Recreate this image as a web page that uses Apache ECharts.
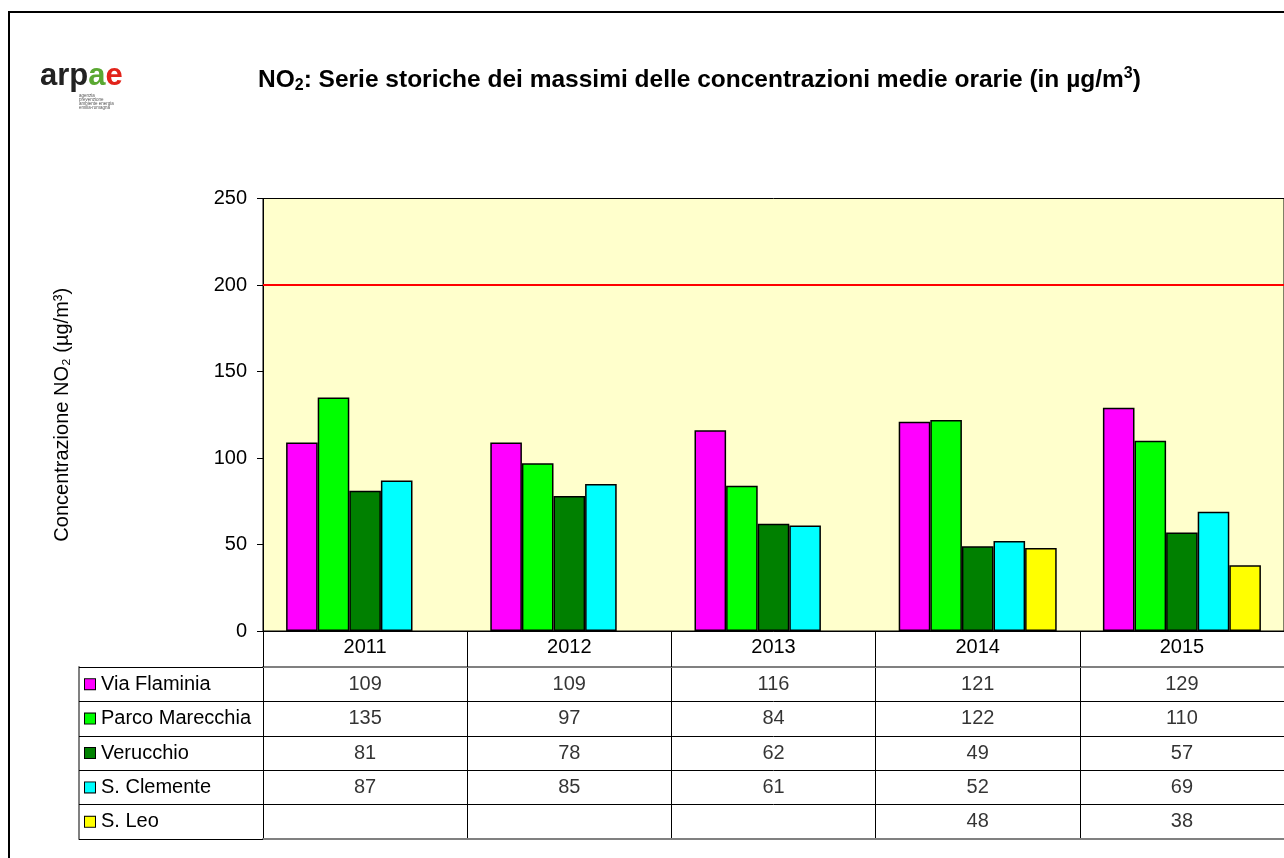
<!DOCTYPE html>
<html lang="it">
<head>
    <meta charset="UTF-8">
    <title>NO2 serie storiche</title>
    <style>
        html, body { margin: 0; padding: 0; background: #fff; }
        #main { width: 1284px; height: 858px; }
    </style>
</head>
<body>
    <div id="main"></div>
    <script src="https://cdn.jsdelivr.net/npm/echarts@6/dist/echarts.min.js"></script>
    <script>
        // dati
        const years = ['2011', '2012', '2013', '2014', '2015'];
        const stations = ['Via Flaminia', 'Parco Marecchia', 'Verucchio', 'S. Clemente', 'S. Leo'];
        const viaFlaminia = [109, 109, 116, 121, 129];
        const parcoMarecchia = [135, 97, 84, 122, 110];
        const verucchio = [81, 78, 62, 49, 57];
        const sClemente = [87, 85, 61, 52, 69];
        const sLeo = [null, null, null, 48, 38];
        const yTicks = [0, 50, 100, 150, 200, 250];
        const limitValue = 200;

        const seriesData = [viaFlaminia, parcoMarecchia, verucchio, sClemente, sLeo];
        const colors = ['#FF00FF', '#00FF00', '#008000', '#00FFFF', '#FFFF00'];

        const chart = echarts.init(document.getElementById('main'));

        // rich text per i quadratini della legenda nella tabella
        const rich = { t: { fontSize: 20, color: '#000', padding: [0, 0, 0, 6] } };
        colors.forEach((c, i) => {
            rich['b' + i] = { width: 10, height: 10, backgroundColor: c, borderColor: '#000', borderWidth: 1 };
        });

        // celle della tabella dati
        const cells = [];
        seriesData.forEach((arr, r) => {
            arr.forEach((v, c) => {
                if (v != null) cells.push([c, r, v]);
            });
        });

        const barSeries = stations.map((name, i) => ({
            name: name,
            type: 'bar',
            xAxisIndex: 0,
            yAxisIndex: 0,
            barWidth: 31.6,
            barGap: '0%',
            itemStyle: { color: colors[i], borderColor: '#000', borderWidth: 1.5 },
            data: seriesData[i],
            silent: true
        }));
        // limite orario 200 µg/m3
        barSeries[0].markLine = {
            silent: true,
            symbol: 'none',
            label: { show: false },
            lineStyle: { color: '#FF0000', width: 2, type: 'solid' },
            data: [{ yAxis: limitValue }]
        };

        const GL = 263, GW = 1023;

        const option = {
            animation: false,
            backgroundColor: '#fff',
            textStyle: { fontFamily: 'Liberation Sans, Arial, sans-serif' },
            title: {
                left: 258,
                top: 66,
                padding: 0,
                text: '{a|NO}{s|2}{a|: Serie storiche dei massimi delle concentrazioni medie orarie (in µg/m}{p|3}{a|)}',
                textStyle: {
                    rich: {
                        a: { fontSize: 24.5, fontWeight: 'bold', color: '#000', lineHeight: 28, fontFamily: 'Liberation Sans' },
                        s: { fontSize: 16, fontWeight: 'bold', color: '#000', lineHeight: 14, verticalAlign: 'bottom', fontFamily: 'Liberation Sans' },
                        p: { fontSize: 16, fontWeight: 'bold', color: '#000', lineHeight: 14, verticalAlign: 'top', fontFamily: 'Liberation Sans' }
                    }
                }
            },
            graphic: [
                {
                    type: 'rect',
                    shape: { x: 9, y: 12, width: 1300, height: 880 },
                    style: { fill: 'none', stroke: '#000', lineWidth: 2 },
                    silent: true
                },
                {
                    type: 'text',
                    left: 40,
                    top: 61,
                    style: {
                        text: '{k|arp}{g|a}{r|e}',
                        rich: {
                            k: { fontSize: 31, fontWeight: 'bold', fill: '#222', fontFamily: 'Liberation Sans' },
                            g: { fontSize: 31, fontWeight: 'bold', fill: '#5aa832', fontFamily: 'Liberation Sans' },
                            r: { fontSize: 31, fontWeight: 'bold', fill: '#e2231a', fontFamily: 'Liberation Sans' }
                        }
                    }
                },
                {
                    type: 'text',
                    left: 79,
                    top: 93,
                    style: {
                        text: 'agenzia\nprevenzione\nambiente energia\nemilia-romagna',
                        fontSize: 4.5,
                        lineHeight: 4,
                        fill: '#555',
                        fontFamily: 'Liberation Sans'
                    }
                }
            ],
            grid: [
                {
                    left: GL, top: 198.5, width: GW, height: 432.5,
                    show: true, backgroundColor: '#FFFFCC', borderColor: '#000', borderWidth: 1
                },
                {
                    left: GL, top: 667, width: GW, height: 172
                }
            ],
            xAxis: [
                {
                    type: 'category',
                    gridIndex: 0,
                    data: years,
                    axisLine: { lineStyle: { color: '#000', width: 1 } },
                    axisTick: { show: true, length: 36, interval: 0, lineStyle: { color: '#000' } },
                    axisLabel: { color: '#000', fontSize: 20, margin: 6 },
                    splitLine: { show: false }
                },
                {
                    type: 'category',
                    gridIndex: 1,
                    data: years,
                    axisLine: { lineStyle: { color: '#808080', width: 2 } },
                    axisTick: { show: false },
                    axisLabel: { show: false },
                    splitLine: { show: true, interval: 0, lineStyle: { color: '#000', width: 1 } }
                },
                {
                    type: 'category',
                    gridIndex: 1,
                    position: 'top',
                    data: years,
                    axisLine: { lineStyle: { color: '#808080', width: 2 } },
                    axisTick: { show: false },
                    axisLabel: { show: false }
                }
            ],
            yAxis: [
                {
                    type: 'value',
                    gridIndex: 0,
                    min: yTicks[0],
                    max: yTicks[yTicks.length - 1],
                    interval: yTicks[1] - yTicks[0],
                    name: 'Concentrazione NO₂ (µg/m³)',
                    nameLocation: 'middle',
                    nameRotate: 90,
                    nameGap: 191,
                    nameTextStyle: { fontSize: 20, color: '#000' },
                    axisLine: { show: true, lineStyle: { color: '#000' } },
                    axisTick: { show: true, length: 6, lineStyle: { color: '#000' } },
                    axisLabel: { color: '#000', fontSize: 20, margin: 16 },
                    splitLine: { show: false }
                },
                {
                    type: 'category',
                    gridIndex: 1,
                    inverse: true,
                    data: stations,
                    axisLine: { show: true, lineStyle: { color: '#000' } },
                    axisTick: { show: true, length: 184, interval: 0, lineStyle: { color: '#000' } },
                    axisLabel: {
                        align: 'left',
                        margin: 178,
                        interval: 0,
                        formatter: (v, i) => '{b' + i + '|}{t|' + v + '}',
                        rich: rich
                    },
                    splitLine: { show: true, interval: 0, lineStyle: { color: '#000' } }
                },
                {
                    type: 'category',
                    gridIndex: 1,
                    inverse: true,
                    position: 'left',
                    offset: 184,
                    data: stations,
                    axisLine: { show: true, lineStyle: { color: '#808080', width: 2 } },
                    axisTick: { show: false },
                    axisLabel: { show: false }
                }
            ],
            series: barSeries.concat([
                {
                    type: 'scatter',
                    xAxisIndex: 1,
                    yAxisIndex: 1,
                    symbolSize: 1,
                    itemStyle: { color: 'rgba(0,0,0,0)' },
                    label: {
                        show: true,
                        position: 'inside',
                        color: '#000',
                        fontSize: 20,
                        formatter: p => String(p.value[2])
                    },
                    data: cells,
                    silent: true
                }
            ])
        };

        chart.setOption(option);
    </script>
</body>
</html>
